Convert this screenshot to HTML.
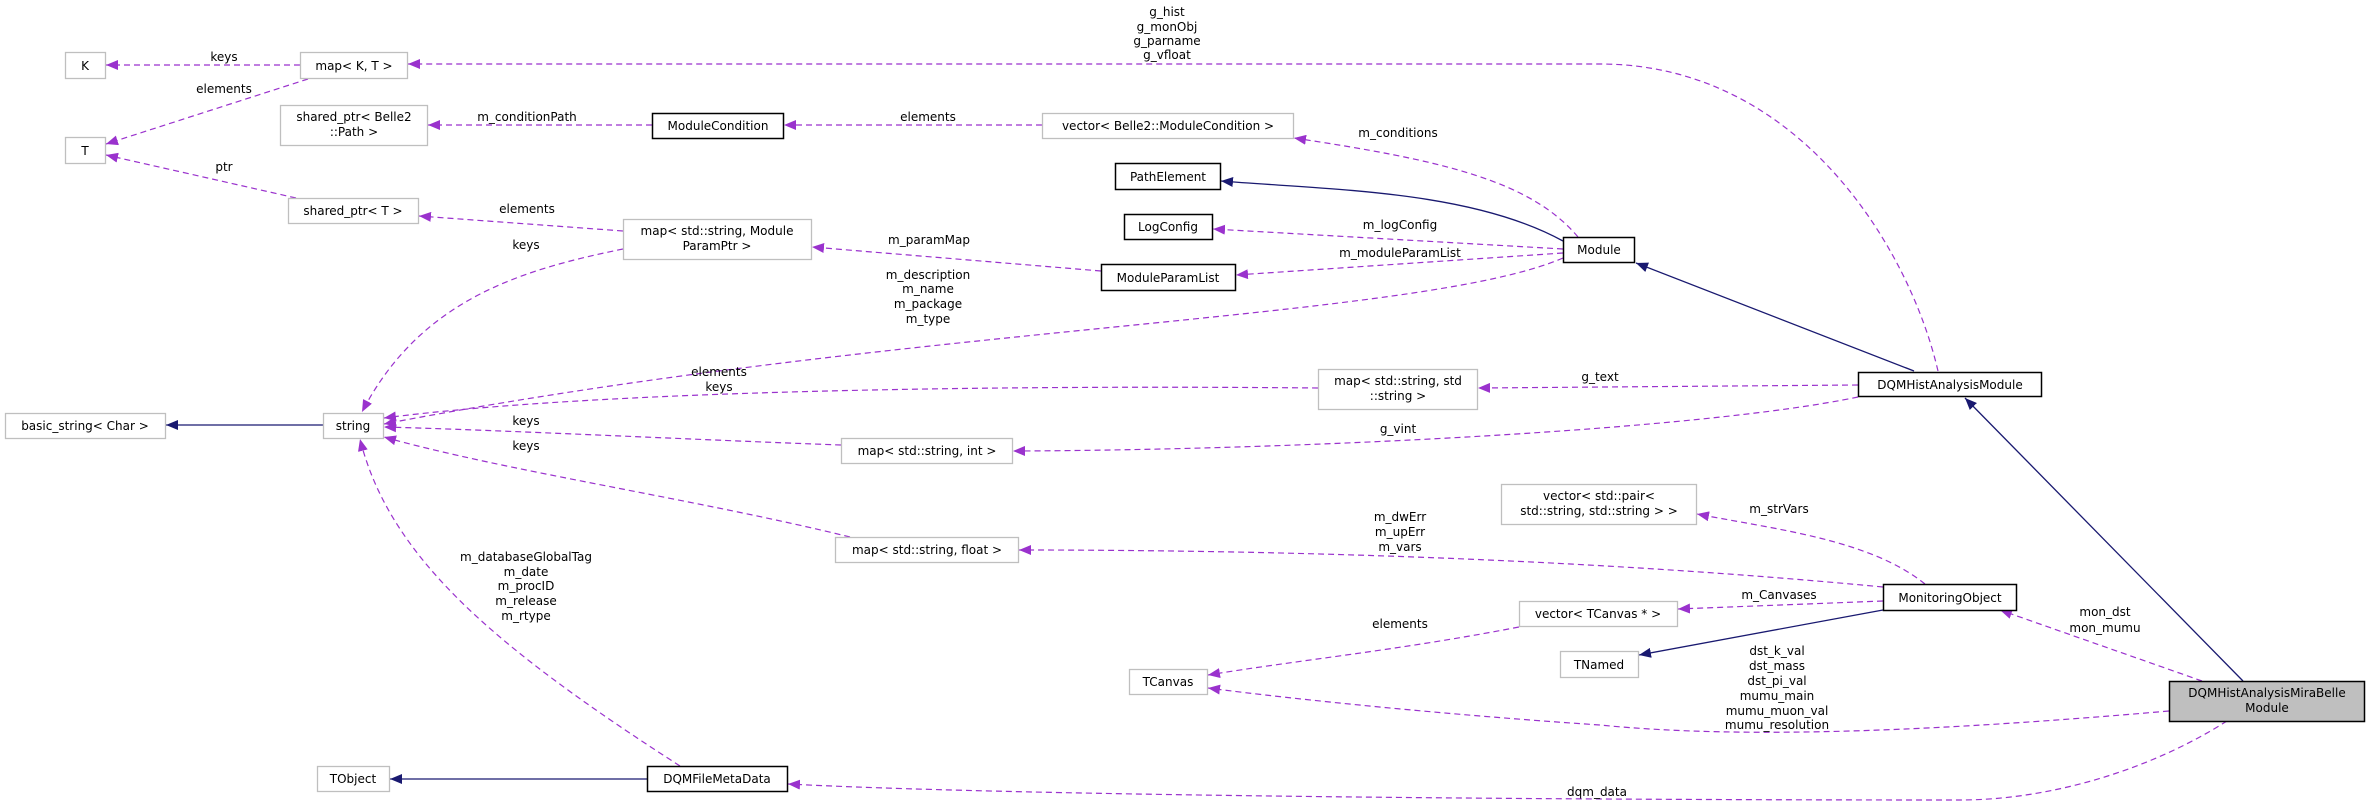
<!DOCTYPE html>
<html><head><meta charset="utf-8"><style>
html,body{margin:0;padding:0;background:#fff;}
svg{display:block;}
text{font-family:"DejaVu Sans","Liberation Sans",sans-serif;font-size:12px;fill:#000;}
.n{fill:#fff;stroke:#bfbfbf;stroke-width:1.3;}
.b{fill:#fff;stroke:#000;stroke-width:1.5;}
.p{fill:none;stroke:#9a32cd;stroke-width:1.2;stroke-dasharray:6,4;}
.s{fill:none;stroke:#191970;stroke-width:1.3;}
</style></head><body>
<svg width="2368" height="807" viewBox="0 0 2368 807" xmlns="http://www.w3.org/2000/svg">
<defs>
<marker id="ap" markerUnits="userSpaceOnUse" markerWidth="13" markerHeight="10" refX="12" refY="5" orient="auto"><path d="M0,0 L12,5 L0,10 z" fill="#9a32cd"/></marker>
<marker id="as" markerUnits="userSpaceOnUse" markerWidth="13" markerHeight="10" refX="12" refY="5" orient="auto"><path d="M0,0 L12,5 L0,10 z" fill="#191970"/></marker>
</defs>

<!-- edges -->
<path class="p" d="M300,65 L106,65" marker-end="url(#ap)"/>
<text x="224" y="61" text-anchor="middle">keys</text>
<path class="p" d="M308,79 L106,144" marker-end="url(#ap)"/>
<text x="224" y="93" text-anchor="middle">elements</text>
<path class="p" d="M296,198 L106,155" marker-end="url(#ap)"/>
<text x="224" y="171" text-anchor="middle">ptr</text>
<path class="p" d="M652,125 L428,125" marker-end="url(#ap)"/>
<text x="527" y="121" text-anchor="middle">m_conditionPath</text>
<path class="p" d="M1042,125 L784,125" marker-end="url(#ap)"/>
<text x="928" y="121" text-anchor="middle">elements</text>
<path class="p" d="M623,231 L419,216" marker-end="url(#ap)"/>
<text x="527" y="213" text-anchor="middle">elements</text>
<path class="p" d="M623,249 C520,270 420,300 362,412" marker-end="url(#ap)"/>
<text x="526" y="249" text-anchor="middle">keys</text>
<path class="p" d="M1938,371 C1910,250 1800,64 1600,64 L408,64" marker-end="url(#ap)"/>
<text x="1167" y="16" text-anchor="middle">g_hist</text>
<text x="1167" y="31" text-anchor="middle">g_monObj</text>
<text x="1167" y="45" text-anchor="middle">g_parname</text>
<text x="1167" y="59" text-anchor="middle">g_vfloat</text>
<path class="p" d="M1578,237 C1530,180 1440,160 1294,138" marker-end="url(#ap)"/>
<text x="1398" y="137" text-anchor="middle">m_conditions</text>
<path class="s" d="M1563,241 C1470,190 1330,190 1221,181" marker-end="url(#as)"/>
<path class="p" d="M1563,249 L1213,229" marker-end="url(#ap)"/>
<text x="1400" y="229" text-anchor="middle">m_logConfig</text>
<path class="p" d="M1563,253 L1236,275" marker-end="url(#ap)"/>
<text x="1400" y="257" text-anchor="middle">m_moduleParamList</text>
<path class="p" d="M1101,271 L812,247" marker-end="url(#ap)"/>
<text x="929" y="244" text-anchor="middle">m_paramMap</text>
<path class="p" d="M1563,258 C1420,320 900,325 384,424" marker-end="url(#ap)"/>
<text x="928" y="279" text-anchor="middle">m_description</text>
<text x="928" y="293" text-anchor="middle">m_name</text>
<text x="928" y="308" text-anchor="middle">m_package</text>
<text x="928" y="323" text-anchor="middle">m_type</text>
<path class="s" d="M1914,371 L1636,263" marker-end="url(#as)"/>
<path class="p" d="M1858,385 L1478,388" marker-end="url(#ap)"/>
<text x="1600" y="381" text-anchor="middle">g_text</text>
<path class="p" d="M1318,388 C1000,385 600,390 384,418" marker-end="url(#ap)"/>
<text x="719" y="376" text-anchor="middle">elements</text>
<text x="719" y="391" text-anchor="middle">keys</text>
<path class="p" d="M1858,397 C1700,430 1300,450 1013,451" marker-end="url(#ap)"/>
<text x="1398" y="433" text-anchor="middle">g_vint</text>
<path class="p" d="M841,445 C700,440 500,430 384,427" marker-end="url(#ap)"/>
<text x="526" y="425" text-anchor="middle">keys</text>
<path class="p" d="M850,537 C700,500 500,470 384,437" marker-end="url(#ap)"/>
<text x="526" y="450" text-anchor="middle">keys</text>
<path class="p" d="M680,766 C500,650 390,560 360,439" marker-end="url(#ap)"/>
<text x="526" y="561" text-anchor="middle">m_databaseGlobalTag</text>
<text x="526" y="576" text-anchor="middle">m_date</text>
<text x="526" y="590" text-anchor="middle">m_procID</text>
<text x="526" y="605" text-anchor="middle">m_release</text>
<text x="526" y="620" text-anchor="middle">m_rtype</text>
<path class="s" d="M647,779 L390,779" marker-end="url(#as)"/>
<path class="s" d="M323,425 L166,425" marker-end="url(#as)"/>
<path class="p" d="M1925,584 C1870,540 1780,530 1697,514" marker-end="url(#ap)"/>
<text x="1779" y="513" text-anchor="middle">m_strVars</text>
<path class="p" d="M1883,587 C1600,560 1300,550 1019,550" marker-end="url(#ap)"/>
<text x="1400" y="521" text-anchor="middle">m_dwErr</text>
<text x="1400" y="536" text-anchor="middle">m_upErr</text>
<text x="1400" y="551" text-anchor="middle">m_vars</text>
<path class="p" d="M1883,601 L1678,609" marker-end="url(#ap)"/>
<text x="1779" y="599" text-anchor="middle">m_Canvases</text>
<path class="s" d="M1883,610 L1639,655" marker-end="url(#as)"/>
<path class="p" d="M1519,627 C1400,650 1300,660 1208,675" marker-end="url(#ap)"/>
<text x="1400" y="628" text-anchor="middle">elements</text>
<path class="p" d="M2202,681 L2000,610" marker-end="url(#ap)"/>
<text x="2105" y="616" text-anchor="middle">mon_dst</text>
<text x="2105" y="632" text-anchor="middle">mon_mumu</text>
<path class="p" d="M2169,711 C1950,730 1750,740 1600,725 C1450,715 1300,700 1208,688" marker-end="url(#ap)"/>
<text x="1777" y="655" text-anchor="middle">dst_k_val</text>
<text x="1777" y="670" text-anchor="middle">dst_mass</text>
<text x="1777" y="685" text-anchor="middle">dst_pi_val</text>
<text x="1777" y="700" text-anchor="middle">mumu_main</text>
<text x="1777" y="715" text-anchor="middle">mumu_muon_val</text>
<text x="1777" y="729" text-anchor="middle">mumu_resolution</text>
<path class="p" d="M2227,721 C2150,770 2050,800 1960,800 C1500,800 1000,795 788,784" marker-end="url(#ap)"/>
<text x="1597" y="796" text-anchor="middle">dqm_data</text>
<path class="s" d="M2243,681 L1965,398" marker-end="url(#as)"/>

<!-- nodes -->
<rect class="n" x="65.5" y="52.5" width="40" height="26"/><text x="85" y="70" text-anchor="middle">K</text>
<rect class="n" x="300.5" y="52.5" width="107" height="26"/><text x="354" y="70" text-anchor="middle">map&lt; K, T &gt;</text>
<rect class="n" x="65.5" y="137.5" width="40" height="26"/><text x="85" y="155" text-anchor="middle">T</text>
<rect class="n" x="280.5" y="105.5" width="147" height="40"/><text x="354" y="121" text-anchor="middle">shared_ptr&lt; Belle2</text><text x="354" y="136" text-anchor="middle">::Path &gt;</text>
<rect class="b" x="652.5" y="113.5" width="131" height="25"/><text x="718" y="130" text-anchor="middle">ModuleCondition</text>
<rect class="n" x="288.5" y="198.5" width="130" height="25"/><text x="353" y="215" text-anchor="middle">shared_ptr&lt; T &gt;</text>
<rect class="n" x="623.5" y="219.5" width="188" height="40"/><text x="717" y="235" text-anchor="middle">map&lt; std::string, Module</text><text x="717" y="250" text-anchor="middle">ParamPtr &gt;</text>
<rect class="n" x="5.5" y="413.5" width="160" height="25"/><text x="85" y="430" text-anchor="middle">basic_string&lt; Char &gt;</text>
<rect class="n" x="323.5" y="413.5" width="60" height="25"/><text x="353" y="430" text-anchor="middle">string</text>
<rect class="n" x="317.5" y="766.5" width="72" height="25"/><text x="353" y="783" text-anchor="middle">TObject</text>
<rect class="b" x="647.5" y="766.5" width="140" height="25"/><text x="717" y="783" text-anchor="middle">DQMFileMetaData</text>
<rect class="n" x="1042.5" y="113.5" width="251" height="25"/><text x="1168" y="130" text-anchor="middle">vector&lt; Belle2::ModuleCondition &gt;</text>
<rect class="b" x="1115.5" y="163.5" width="105" height="26"/><text x="1168" y="181" text-anchor="middle">PathElement</text>
<rect class="b" x="1124.5" y="214.5" width="88" height="25"/><text x="1168" y="231" text-anchor="middle">LogConfig</text>
<rect class="b" x="1101.5" y="264.5" width="134" height="26"/><text x="1168" y="282" text-anchor="middle">ModuleParamList</text>
<rect class="b" x="1563.5" y="237.5" width="71" height="25"/><text x="1599" y="254" text-anchor="middle">Module</text>
<rect class="n" x="1318.5" y="369.5" width="159" height="40"/><text x="1398" y="385" text-anchor="middle">map&lt; std::string, std</text><text x="1398" y="400" text-anchor="middle">::string &gt;</text>
<rect class="b" x="1858.5" y="372.5" width="183" height="24"/><text x="1950" y="389" text-anchor="middle">DQMHistAnalysisModule</text>
<rect class="n" x="841.5" y="438.5" width="171" height="25"/><text x="927" y="455" text-anchor="middle">map&lt; std::string, int &gt;</text>
<rect class="n" x="1501.5" y="484.5" width="195" height="40"/><text x="1599" y="500" text-anchor="middle">vector&lt; std::pair&lt;</text><text x="1599" y="515" text-anchor="middle">std::string, std::string &gt; &gt;</text>
<rect class="n" x="835.5" y="537.5" width="183" height="25"/><text x="927" y="554" text-anchor="middle">map&lt; std::string, float &gt;</text>
<rect class="n" x="1519.5" y="601.5" width="158" height="25"/><text x="1598" y="618" text-anchor="middle">vector&lt; TCanvas * &gt;</text>
<rect class="n" x="1560.5" y="651.5" width="78" height="26"/><text x="1599" y="669" text-anchor="middle">TNamed</text>
<rect class="n" x="1129.5" y="669.5" width="78" height="25"/><text x="1168" y="686" text-anchor="middle">TCanvas</text>
<rect class="b" x="1883.5" y="584.5" width="133" height="26"/><text x="1950" y="602" text-anchor="middle">MonitoringObject</text>
<rect x="2169.5" y="681.5" width="195" height="40" fill="#bfbfbf" stroke="#000" stroke-width="1.5"/><text x="2267" y="697" text-anchor="middle">DQMHistAnalysisMiraBelle</text><text x="2267" y="712" text-anchor="middle">Module</text>
</svg>
</body></html>
